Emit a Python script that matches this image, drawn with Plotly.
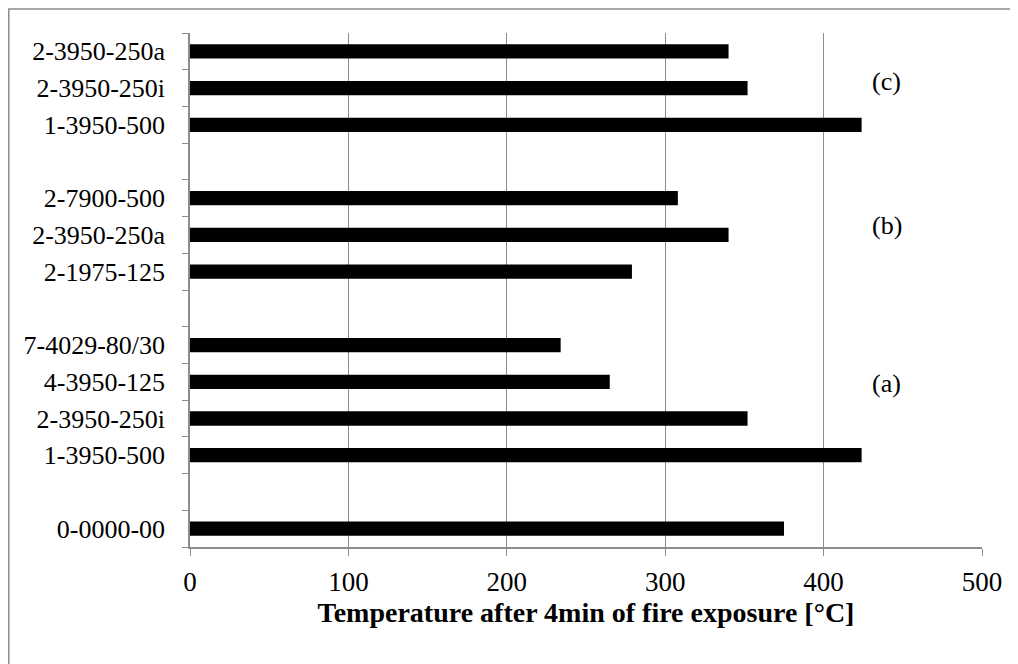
import plotly.graph_objects as go

# Data (bottom to top); None marks an empty separator slot
labels = ["0-0000-00", "", "1-3950-500", "2-3950-250i", "4-3950-125", "7-4029-80/30", "",
          "2-1975-125", "2-3950-250a", "2-7900-500", "",
          "1-3950-500", "2-3950-250i", "2-3950-250a"]
temps = [375, None, 424, 352, 265, 234, None, 279, 340, 308, None, 424, 352, 340]
group_labels = ["(a)", "(b)", "(c)"]
group_label_y = [3.95, 8.27, 12.17]
x_ticks = [0, 100, 200, 300, 400, 500]

positions = list(range(len(labels)))
boundaries = [p - 0.5 for p in positions] + [positions[-1] + 0.5]

FONT = "Liberation Serif"
GREY = "#8c8c8c"

fig = go.Figure()
fig.add_trace(go.Bar(
    x=temps, y=positions, orientation="h",
    marker=dict(color="black", line=dict(width=0)),
    width=0.39, showlegend=False,
))
# invisible trace on the overlay axis so that boundary ticks get drawn
fig.add_trace(go.Scatter(x=[None], y=[None], yaxis="y2", showlegend=False))

fig.update_layout(
    width=1010, height=656,
    margin=dict(l=182, r=36, t=25, b=117, autoexpand=False),
    paper_bgcolor="white", plot_bgcolor="white",
    font=dict(family=FONT, color="black"),
    xaxis=dict(
        range=[0, 500], tickvals=x_ticks, ticks="outside", ticklen=7,
        tickcolor=GREY, tickwidth=1,
        showgrid=True, gridcolor=GREY, gridwidth=1,
        showline=True, linecolor=GREY, linewidth=1.5,
        zeroline=False,
        tickfont=dict(family=FONT, size=27, color="black"),
        ticklabelstandoff=3,
        title=dict(text="<b>Temperature after 4min of fire exposure [°C]</b>",
                   font=dict(family=FONT, size=28, color="black"), standoff=2),
    ),
    yaxis=dict(
        range=[-0.5, len(labels) - 0.5], tickvals=positions, ticktext=labels,
        ticks="", showgrid=False, zeroline=False,
        showline=True, linecolor=GREY, linewidth=1.5,
        tickfont=dict(family=FONT, size=26, color="black"),
        ticklabelstandoff=18,
    ),
    yaxis2=dict(
        overlaying="y", matches="y", side="left",
        tickvals=boundaries, showticklabels=False,
        ticks="outside", ticklen=7, tickcolor=GREY, tickwidth=1,
        showgrid=False, zeroline=False, showline=False,
    ),
    bargap=0.6,
)

for txt, yy in zip(group_labels, group_label_y):
    fig.add_annotation(x=440, y=yy, xref="x", yref="y", text=txt, showarrow=False,
                       font=dict(family=FONT, size=26, color="black"))

# outer chart-area border (extends beyond the right/bottom edges like the reference)
fig.add_shape(type="rect", xref="paper", yref="paper",
              x0=(8.8 - 190) / 792, x1=1.2, y0=-0.5, y1=(547 - 9) / 514,
              line=dict(color=GREY, width=1.5), fillcolor="rgba(0,0,0,0)", layer="below")

fig.write_html("out.html")
